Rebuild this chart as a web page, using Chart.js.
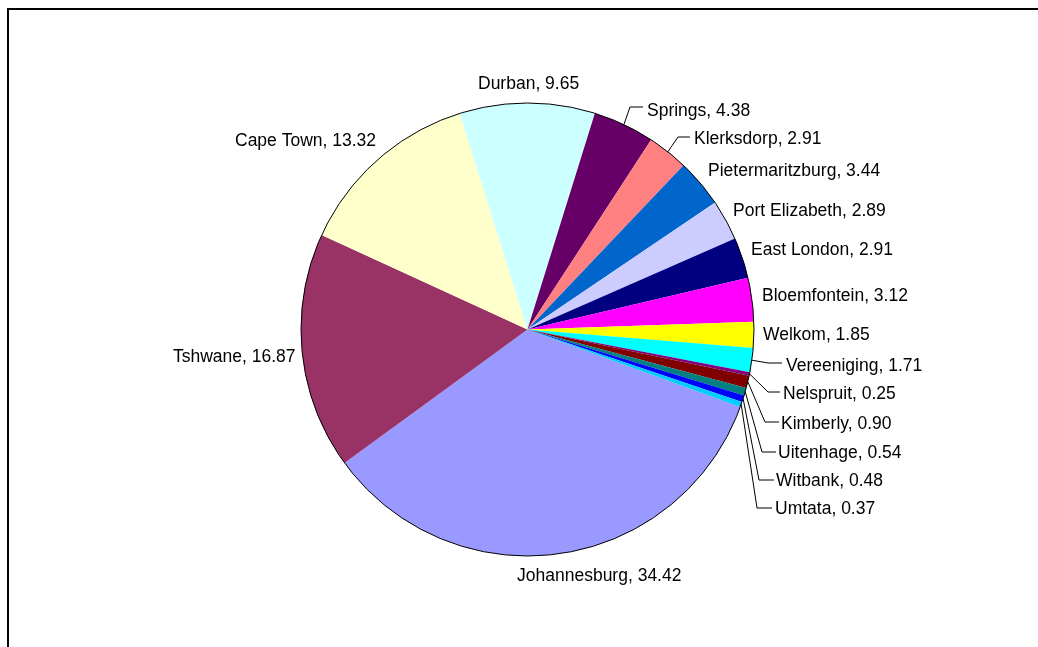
<!DOCTYPE html>
<html>
<head>
<meta charset="utf-8">
<script src="https://cdn.jsdelivr.net/npm/chart.js@4.4.0/dist/chart.umd.min.js"></script>
<style>
  html, body { margin: 0; padding: 0; background: #fff; }
  #wrap { width: 1038px; height: 647px; }
</style>
</head>
<body>
<div id="wrap"><canvas id="pieChart" width="1038" height="647"></canvas></div>
<script>
const cities = ['Johannesburg', 'Tshwane', 'Cape Town', 'Durban', 'Springs', 'Klerksdorp',
  'Pietermaritzburg', 'Port Elizabeth', 'East London', 'Bloemfontein', 'Welkom',
  'Vereeniging', 'Nelspruit', 'Kimberly', 'Uitenhage', 'Witbank', 'Umtata'];
const shares = [34.42, 16.87, 13.32, 9.65, 4.38, 2.91, 3.44, 2.89, 2.91, 3.12, 1.85,
  1.71, 0.25, 0.90, 0.54, 0.48, 0.37];
const colours = ['#9999FF', '#993366', '#FFFFCC', '#CCFFFF', '#660066', '#FF8080',
  '#0066CC', '#CCCCFF', '#000080', '#FF00FF', '#FFFF00', '#00FFFF', '#800080',
  '#800000', '#008080', '#0000FF', '#00CCFF'];

// where each label text starts (left edge, vertical middle); leader = [elbowX, elbowY, endX]
const labelLayout = [
  { x: 517, y: 576 },
  { x: 173, y: 357 },
  { x: 235, y: 141 },
  { x: 478, y: 84 },
  { x: 647, y: 111, leader: [630, 107, 643] },
  { x: 694, y: 139, leader: [678, 137, 690] },
  { x: 708, y: 171 },
  { x: 733, y: 211 },
  { x: 751, y: 250 },
  { x: 762, y: 296 },
  { x: 763, y: 335 },
  { x: 786, y: 366, leader: [768, 363, 782] },
  { x: 783, y: 394, leader: [768, 392, 780] },
  { x: 781, y: 424, leader: [765, 422, 779] },
  { x: 778, y: 453, leader: [762, 452, 776] },
  { x: 776, y: 481, leader: [759, 480, 774] },
  { x: 775, y: 509, leader: [757, 508, 772] }
];

const frameAndLabels = {
  id: 'frameAndLabels',
  beforeDraw(chart) {
    const c = chart.ctx;
    c.save();
    c.fillStyle = '#fff';
    c.fillRect(0, 0, chart.width, chart.height);
    c.strokeStyle = '#000';
    c.lineWidth = 2;
    c.beginPath();
    c.moveTo(8, chart.height);
    c.lineTo(8, 9);
    c.lineTo(chart.width, 9);
    c.stroke();
    c.restore();
  },
  afterDatasetsDraw(chart) {
    const c = chart.ctx;
    const arcs = chart.getDatasetMeta(0).data;
    const a0 = arcs[0];
    c.save();
    // outer outline of the pie
    c.strokeStyle = '#000';
    c.lineWidth = 1;
    c.beginPath();
    c.arc(a0.x, a0.y, a0.outerRadius, 0, Math.PI * 2);
    c.stroke();

    c.font = '17.5px "Liberation Sans", Arial, sans-serif';
    c.fillStyle = '#000';
    c.textBaseline = 'middle';
    c.textAlign = 'left';
    arcs.forEach((arc, i) => {
      const lay = labelLayout[i];
      if (lay.leader) {
        const mid = (arc.startAngle + arc.endAngle) / 2;
        const sx = arc.x + Math.cos(mid) * arc.outerRadius;
        const sy = arc.y + Math.sin(mid) * arc.outerRadius;
        c.strokeStyle = '#000';
        c.lineWidth = 1;
        c.beginPath();
        c.moveTo(sx, sy);
        c.lineTo(lay.leader[0], lay.leader[1]);
        c.lineTo(lay.leader[2], lay.leader[1]);
        c.stroke();
      }
      c.fillText(cities[i] + ', ' + shares[i].toFixed(2), lay.x, lay.y);
    });
    c.restore();
  }
};

new Chart(document.getElementById('pieChart'), {
  type: 'pie',
  data: {
    labels: cities,
    datasets: [{
      data: shares,
      backgroundColor: colours,
      borderWidth: 0
    }]
  },
  options: {
    responsive: false,
    animation: false,
    rotation: 110,
    layout: { padding: { left: 301, right: 284, top: 103, bottom: 91 } },
    plugins: {
      legend: { display: false },
      tooltip: { enabled: false }
    }
  },
  plugins: [frameAndLabels]
});
</script>
</body>
</html>
